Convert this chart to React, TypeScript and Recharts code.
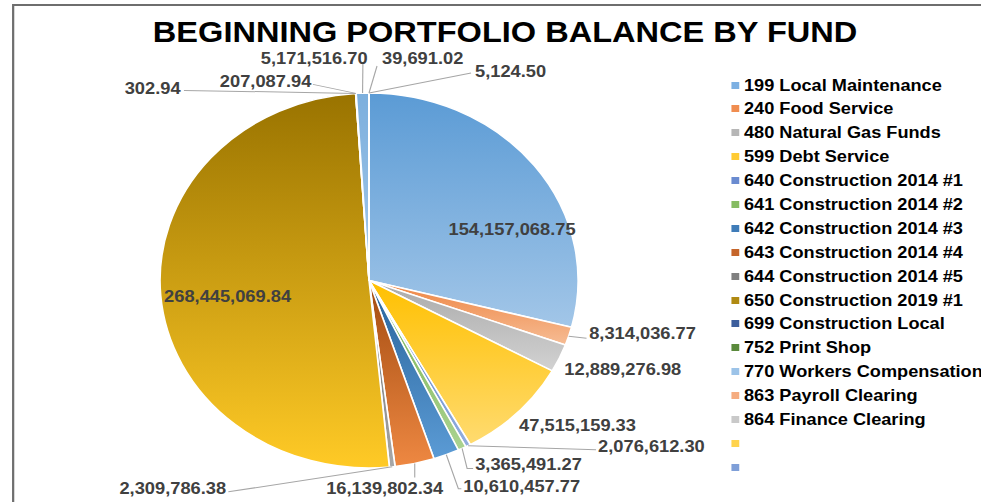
import React from 'react';
import { PieChart, Pie, Cell, Legend } from 'recharts';

// ---------- data ----------
const fundNames = [
  '199 Local Maintenance',
  '240 Food Service',
  '480 Natural Gas Funds',
  '599 Debt Service',
  '640 Construction 2014 #1',
  '641 Construction 2014 #2',
  '642 Construction 2014 #3',
  '643 Construction 2014 #4',
  '644 Construction 2014 #5',
  '650 Construction 2019 #1',
  '699 Construction Local',
  '752 Print Shop',
  '770 Workers Compensation',
  '863 Payroll Clearing',
  '864 Finance Clearing',
];
const balances = [
  154157068.75, 8314036.77, 12889276.98, 47515159.33, 2076612.3, 3365491.27,
  10610457.77, 16139802.34, 2309786.38, 268445069.84, 302.94, 207087.94,
  5171516.7, 39691.02, 5124.5,
];
const blankLegendNames = ['', ''];

// ---------- styles ----------
const gradTop = [
  '#5B9BD5', '#EE8441', '#A9A9A9', '#FFC000', '#4F7BC9', '#74B04B', '#28639A',
  '#A24B10', '#666666', '#997300', '#264478', '#43682B', '#7CAFDD', '#F1975A', '#B7B7B7',
];
const gradBottom = [
  '#A2C6E8', '#F6BC94', '#D2D2D2', '#FFDB70', '#93AEDE', '#ABD391', '#5B9BD5',
  '#EE8842', '#A8A8A8', '#FFCA26', '#4472C4', '#70AD47', '#A3C8EA', '#F8CBAD', '#D9D9D9',
];
const legendColors = [
  '#7DB0E2', '#F08D50', '#B6B6B6', '#FFCB33', '#6A8BD0', '#86BC62', '#3F7CB8',
  '#C5652A', '#808080', '#B08A12', '#3C5E9C', '#5A8A3C', '#9CC3E8', '#F5AC80',
  '#C9C9C9', '#FFD34D', '#7F9FD8',
];

const SX = 1.115; // horizontal stretch of the whole picture
const W = 880;
const H = 502;
const FONT = '"Liberation Sans", Arial, Helvetica, sans-serif';

type LabelLayout = {
  dx: number;
  dy: number;
  anchor: 'start' | 'middle' | 'end';
  line?: [number, number][];
};
const labelLayout: LabelLayout[] = [
  { dx: -20, dy: 64, anchor: 'middle' },
  { dx: 18.4, dy: -2.5, anchor: 'start', line: [[16, 2]] },
  { dx: 4.5, dy: 11, anchor: 'start' },
  { dx: 1.8, dy: 12.6, anchor: 'start' },
  { dx: 116.6, dy: 1, anchor: 'start', line: [[114.8, 4]] },
  { dx: 11.7, dy: 16, anchor: 'start', line: [[4.5, 20], [9.9, 20]] },
  { dx: 15.2, dy: 32, anchor: 'start', line: [[10.8, 34], [13.5, 34]] },
  { dx: -27, dy: 25, anchor: 'middle', line: [[0, 14]] },
  { dx: -149, dy: 22, anchor: 'end', line: [[-147, 25]] },
  { dx: 60, dy: 1, anchor: 'middle' },
  { dx: -157, dy: -5, anchor: 'end', line: [[-154, -3]] },
  { dx: -40, dy: -12, anchor: 'end', line: [[-38.6, -9]] },
  { dx: 4.5, dy: -35, anchor: 'end', line: [[0.3, -29]] },
  { dx: 11.7, dy: -35, anchor: 'start', line: [[7.2, -27]] },
  { dx: 95, dy: -22, anchor: 'start', line: [[91.5, -20]] },
];

const data = fundNames.map((name, i) => ({ name, value: balances[i] }));
const fmt = (v: number) =>
  v.toLocaleString('en-US', { minimumFractionDigits: 2, maximumFractionDigits: 2 });

const RAD = Math.PI / 180;
const renderLabel = (props: any) => {
  const { cx, cy, midAngle, outerRadius, index, value } = props;
  const L = labelLayout[index];
  if (!L) return null;
  const ex = cx + outerRadius * Math.cos(midAngle * RAD);
  const ey = cy - outerRadius * Math.sin(midAngle * RAD);
  const pts = L.line ? [[0, 0], ...L.line].map(([a, b]) => `${ex + a},${ey + b}`).join(' ') : null;
  return (
    <g key={`lbl-${index}`}>
      {pts && <polyline points={pts} fill="none" stroke="#A6A6A6" strokeWidth={1} />}
      <text
        x={ex + L.dx}
        y={ey + L.dy}
        textAnchor={L.anchor}
        dominantBaseline="central"
        fill="#404040"
        fontFamily={FONT}
        fontWeight="bold"
        fontSize={16.4}
      >
        {fmt(value)}
      </text>
    </g>
  );
};

const legendNames = [...fundNames, ...blankLegendNames];
const renderLegend = () => (
  <div style={{ fontFamily: FONT, fontWeight: 'bold', fontSize: 16.3, color: '#000' }}>
    {legendNames.map((n, i) => (
      <div
        key={i}
        style={{ height: 23.9, display: 'flex', alignItems: 'center', whiteSpace: 'nowrap' }}
      >
        <span
          style={{
            width: 7.2,
            height: 7,
            background: legendColors[i],
            marginRight: 4.5,
            flex: 'none',
            display: 'inline-block',
          }}
        />
        <span>{n}</span>
      </div>
    ))}
  </div>
);

export default function App() {
  return (
    <div
      style={{
        position: 'absolute',
        left: 0,
        top: 0,
        width: 981,
        height: 502,
        overflow: 'hidden',
        background: '#fff',
      }}
    >
      <div
        style={{
          position: 'absolute',
          left: 0,
          top: 0,
          width: W,
          height: H,
          transform: `scaleX(${SX})`,
          transformOrigin: '0 0',
        }}
      >
        <PieChart width={W} height={H} margin={{ top: 0, right: 0, bottom: 0, left: 0 }}>
          <defs>
            {gradTop.map((c, i) => (
              <linearGradient key={i} id={`g${i}`} x1="0" y1="0" x2="0" y2="1">
                <stop offset="0%" stopColor={c} />
                <stop offset="100%" stopColor={gradBottom[i]} />
              </linearGradient>
            ))}
          </defs>
          <Pie
            data={data}
            dataKey="value"
            nameKey="name"
            cx={331}
            cy={280.5}
            outerRadius={187.5}
            startAngle={90}
            endAngle={-270}
            stroke="#fff"
            strokeWidth={1.5}
            label={renderLabel}
            labelLine={false}
            isAnimationActive={false}
          >
            {data.map((d, i) => (
              <Cell key={d.name} fill={`url(#g${i})`} />
            ))}
          </Pie>
          <Legend
            layout="vertical"
            align="right"
            verticalAlign="top"
            content={renderLegend}
            wrapperStyle={{ left: 655.6, top: 73.1, width: 330, height: 420 }}
          />
        </PieChart>
        <svg
          width={W}
          height={H}
          style={{ position: 'absolute', left: 0, top: 0, pointerEvents: 'none' }}
        >
          <path d={`M11.8 ${H} V5 H${W}`} fill="none" stroke="#6E6E6E" strokeWidth={2} />
          <text
            x={453}
            y={42}
            textAnchor="middle"
            fontFamily={FONT}
            fontWeight="bold"
            fontSize={29.2}
            fill="#000"
          >
            BEGINNING PORTFOLIO BALANCE BY FUND
          </text>
        </svg>
      </div>
    </div>
  );
}
